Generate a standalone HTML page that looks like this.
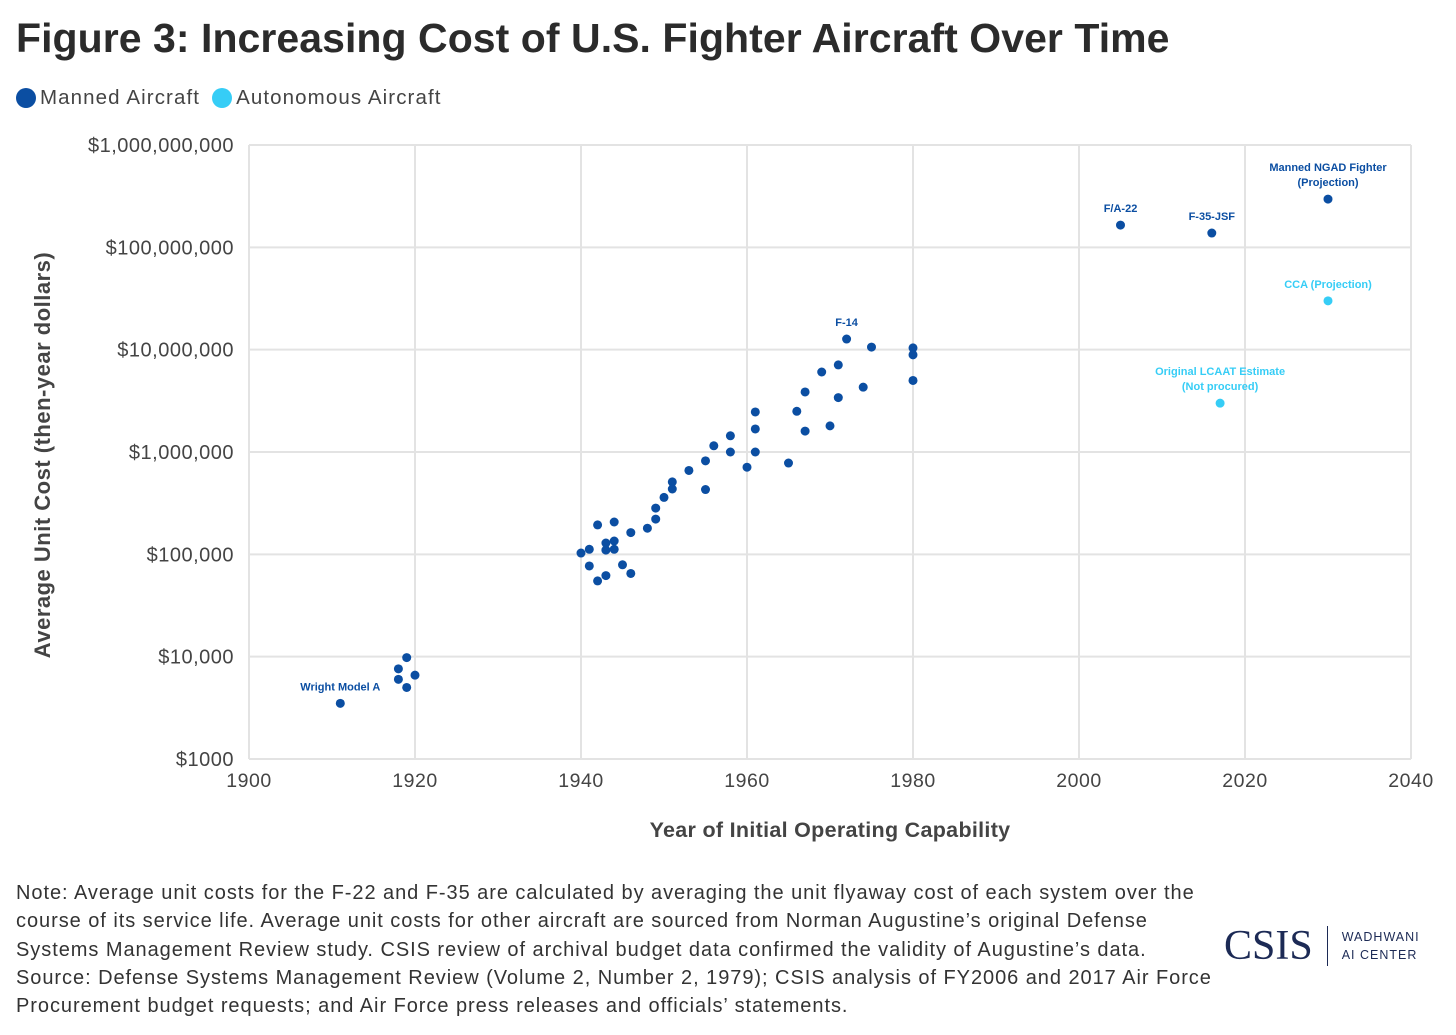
<!DOCTYPE html>
<html><head><meta charset="utf-8">
<style>
body{margin:0;width:1456px;height:1035px;background:#fff;font-family:"Liberation Sans",sans-serif;color:#333;overflow:hidden;position:relative}
#title{position:absolute;left:16px;top:15px;font-size:41px;font-weight:bold;color:#2b2b2b;letter-spacing:0.05px;white-space:nowrap}
#legend{position:absolute;left:16px;top:86px;font-size:20.5px;color:#444;display:flex;gap:12px;align-items:center;letter-spacing:1.1px}
.lg{display:flex;align-items:center;gap:4px}
.dot{width:20px;height:20px;border-radius:50%;display:inline-block}
#note{position:absolute;left:16px;top:879px;font-size:20px;line-height:28.3px;color:#333;white-space:nowrap;letter-spacing:0.95px}
#logo{position:absolute;left:1224px;top:922px;display:flex;align-items:center}
</style></head><body>
<div id="title">Figure 3: Increasing Cost of U.S. Fighter Aircraft Over Time</div>
<div id="legend">
<span class="lg"><span class="dot" style="background:#0b4ea2"></span>Manned Aircraft</span>
<span class="lg"><span class="dot" style="background:#36cdf6"></span>Autonomous Aircraft</span>
</div>
<svg id="chart" width="1456" height="860" style="position:absolute;left:0;top:0"></svg>
<div id="note">Note: Average unit costs for the F-22 and F-35 are calculated by averaging the unit flyaway cost of each system over the<br>course of its service life. Average unit costs for other aircraft are sourced from Norman Augustine’s original Defense<br>Systems Management Review study. CSIS review of archival budget data confirmed the validity of Augustine’s data.<br>Source: Defense Systems Management Review (Volume 2, Number 2, 1979); CSIS analysis of FY2006 and 2017 Air Force<br>Procurement budget requests; and Air Force press releases and officials’ statements.</div>
<div id="logo">
<span style="font-family:'Liberation Serif',serif;font-size:42px;color:#1c2a55">CSIS</span>
<span style="width:1px;height:40px;background:#1c2a55;margin:0 14px"></span>
<span style="font-size:12.5px;letter-spacing:1px;color:#1c2a55;line-height:18px">WADHWANI<br>AI CENTER</span>
</div>
<script>
const xTicks=[1900,1920,1940,1960,1980,2000,2020,2040];
const yTicks=[1000,10000,100000,1000000,10000000,100000000,1000000000];
const yTickLabels=["$1000","$10,000","$100,000","$1,000,000","$10,000,000","$100,000,000","$1,000,000,000"];
const mannedYears=[1911,1918,1918,1919,1919,1920,1940,1941,1941,1942,1942,1943,1943,1943,1944,1944,1944,1945,1946,1946,1948,1949,1949,1950,1951,1951,1953,1955,1955,1956,1958,1958,1960,1961,1961,1961,1965,1966,1967,1967,1969,1970,1971,1971,1972,1974,1975,1980,1980,1980,2005,2016,2030];
const mannedCosts=[3500,7600,6000,9800,5000,6600,103000,112000,77000,194000,55000,129000,110000,62000,207000,135000,112000,79000,163000,65000,180000,221000,283000,360000,510000,435000,660000,430000,820000,1150000,1440000,1000000,710000,1000000,1680000,2460000,780000,2500000,1600000,3860000,6050000,1800000,3400000,7100000,12700000,4300000,10600000,10400000,8900000,5000000,165000000,138000000,296000000];
const autoYears=[2030,2017];
const autoCosts=[30000000,3000000];
const labelsManned={0:["Wright Model A"],44:["F-14"],50:["F/A-22"],51:["F-35-JSF"],52:["Manned NGAD Fighter","(Projection)"]};
const labelsAuto={0:["CCA (Projection)"],1:["Original LCAAT Estimate","(Not procured)"]};
const NS="http://www.w3.org/2000/svg";
const svg=document.getElementById('chart');
const X0=249,X1=1411,Y0=759,Y1=145;
const xs=v=>X0+(v-1900)/140*(X1-X0);
const ys=v=>Y0-(Math.log10(v)-3)/6*(Y0-Y1);
function mk(t,a,txt){const e=document.createElementNS(NS,t);for(const k in a)e.setAttribute(k,a[k]);if(txt!==undefined)e.textContent=txt;svg.appendChild(e);return e;}
xTicks.forEach(t=>{
 const l=mk('line',{x1:xs(t),x2:xs(t),y1:Y1,y2:Y0,stroke:'#e3e3e3','stroke-width':2});
 
 
 const tx=mk('text',{x:xs(t),y:787,'text-anchor':'middle','font-size':19.5,fill:'#444','letter-spacing':0.5},t);
 
 
});
yTicks.forEach((t,i)=>{
 const l=mk('line',{x1:X0,x2:X1,y1:ys(t),y2:ys(t),stroke:'#e3e3e3','stroke-width':2});
 
 
 const tx=mk('text',{x:234,y:ys(t)+7,'text-anchor':'end','font-size':20,fill:'#444','letter-spacing':0.5},yTickLabels[i]);
 
 
});
const xt=mk('text',{x:830,y:837,'text-anchor':'middle','font-size':21.5,'font-weight':'bold',fill:'#444','letter-spacing':0.3},'Year of Initial Operating Capability');


const yt=mk('text',{x:0,y:0,transform:'translate(50,455) rotate(-90)','text-anchor':'middle','font-size':22,'font-weight':'bold',fill:'#444','letter-spacing':0.5},'Average Unit Cost (then-year dollars)');


function series(years,costs,color,labels,name){
 years.forEach((y,i)=>{
  const c=mk('circle',{cx:xs(y),cy:ys(costs[i]),r:4.5,fill:color});
  
  
  if(labels[i]){
   const lines=labels[i];
   lines.forEach((s,j)=>{
    const ty=ys(costs[i])-13-(lines.length-1-j)*15;
    const tx=mk('text',{x:xs(y),y:ty,'text-anchor':'middle','font-size':11,'font-weight':'bold',fill:color},s);
    
    
   });
  }
 });
}
series(mannedYears,mannedCosts,'#0b4ea2',labelsManned,'manned');
series(autoYears,autoCosts,'#36cdf6',labelsAuto,'autonomous');
</script>
</body></html>
